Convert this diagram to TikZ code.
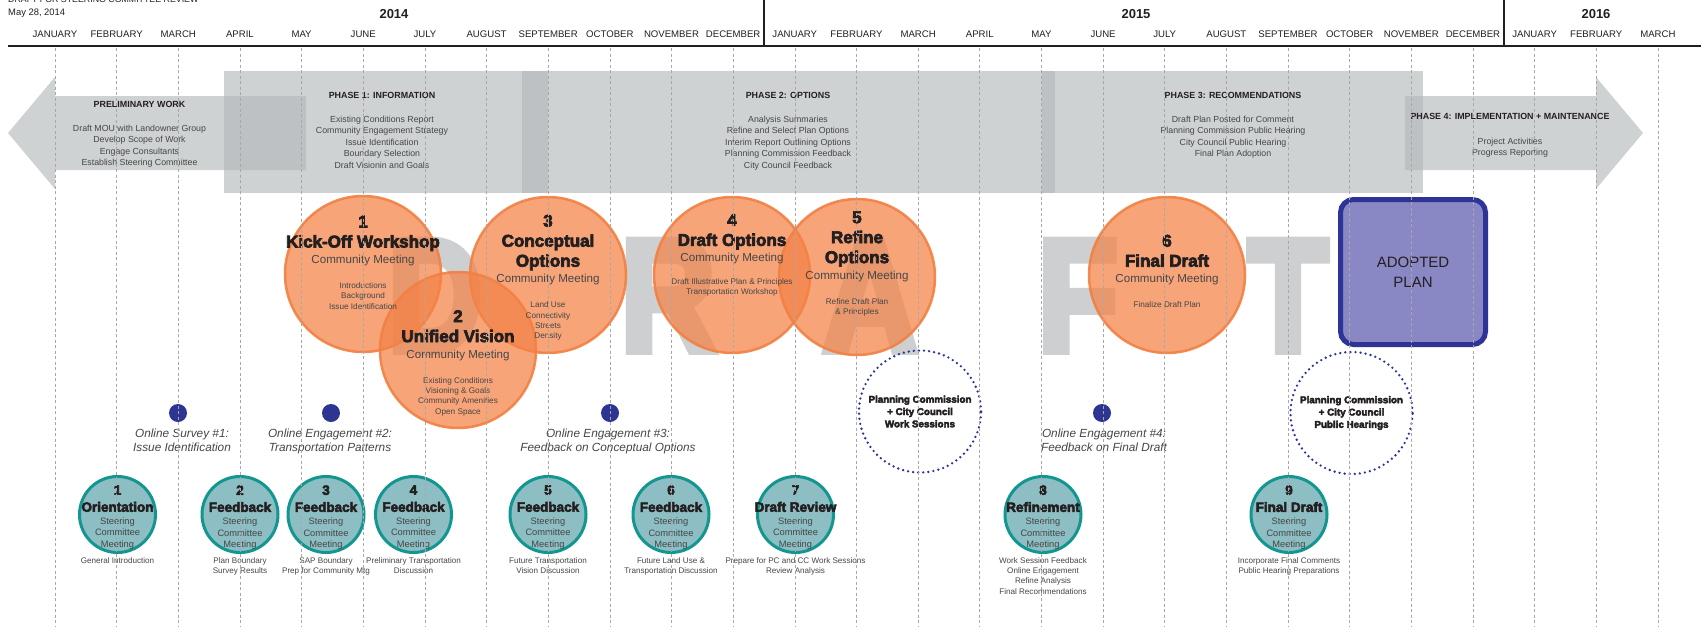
\documentclass[tikz,border=0pt]{standalone}
\usepackage{fontspec}
\setmainfont{Liberation Sans}
\newfontfamily\heavyfont{Liberation Sans Bold}[FakeBold=4]
\newfontfamily\draftfont{Liberation Sans Bold}[FakeBold=6]
\usetikzlibrary{positioning}

\definecolor{bandgray}{RGB}{180,184,186}
\definecolor{lettergray}{RGB}{205,207,209}
\definecolor{mtgfill}{RGB}{245,130,70}
\definecolor{mtgline}{RGB}{242,128,66}
\definecolor{scfill}{RGB}{140,190,195}
\definecolor{scline}{RGB}{20,150,144}
\definecolor{navy}{RGB}{44,54,146}
\definecolor{planfill}{RGB}{137,135,196}
\definecolor{planline}{RGB}{45,52,150}
\definecolor{inkdark}{RGB}{35,31,32}
\definecolor{inkgray}{RGB}{70,70,70}
\definecolor{gridgray}{RGB}{168,168,168}

\newcommand\headfont{\fontsize{17}{20}\selectfont\heavyfont\color{inkdark}}
\newcommand\cmfont{\fontsize{11.6}{14}\selectfont\color{inkgray}}
\newcommand\schead{\fontsize{13.5}{16}\selectfont\heavyfont\color{inkdark}}
\newcommand\bandhead{\fontsize{8.9}{11}\selectfont\bfseries\color{inkdark}}

\begin{document}
\begin{tikzpicture}[x=1pt,y=-1pt,
  band/.style={fill=bandgray,fill opacity=0.63},
  band text/.style={anchor=north,align=center,inner sep=0pt,text=inkgray,
    font={\fontsize{8.8}{11.4}\selectfont\lineskiplimit=-50pt}},
  month/.style={font=\fontsize{9.6}{11}\selectfont,text=inkdark,inner sep=0pt},
  year/.style={font=\fontsize{13}{15}\selectfont\bfseries,text=inkdark,inner sep=0pt},
  draft letter/.style={anchor=base,inner sep=0pt,text=lettergray,xscale=0.82,
    font=\fontsize{158}{160}\selectfont\draftfont},
  mtg node/.style={circle,minimum size=156pt,inner sep=0pt,fill=mtgfill,fill opacity=0.72,
    draw=mtgline,draw opacity=0.9,line width=2.5pt},
  mtg text/.style={anchor=north,align=center,inner sep=0pt,text=inkgray,
    font={\fontsize{8.2}{10.4}\selectfont\lineskiplimit=-50pt}},
  ses node/.style={circle,minimum size=122pt,inner sep=0pt,draw=navy,line width=2.6pt,
    dash pattern=on 0pt off 5.1pt,line cap=round,align=center,text=inkdark,
    font={\fontsize{9.8}{12.3}\selectfont\heavyfont}},
  plan node/.style={rectangle,rounded corners=13pt,minimum width=145pt,minimum height=145pt,
    fill=planfill,draw=planline,line width=5pt,align=center,text=inkdark,
    font=\fontsize{15}{20}\selectfont},
  dot node/.style={circle,minimum size=18pt,inner sep=0pt,fill=navy},
  dot text/.style={anchor=north,align=center,inner sep=0pt,text=inkgray,
    font={\fontsize{11.8}{14.3}\selectfont\itshape}},
  sc node/.style={circle,minimum size=76pt,inner sep=0pt,fill=scfill,draw=scline,line width=3pt},
  sc text/.style={anchor=north,align=center,inner sep=0pt,text=inkgray,
    font={\fontsize{9.3}{11.3}\selectfont\lineskiplimit=-50pt}},
  sc label/.style={align=center,inner sep=0pt,text=inkgray,font={\fontsize{8.1}{10.4}\selectfont}},
  grid line/.style={gridgray,line width=0.6pt,dash pattern=on 3pt off 2.5pt}]

    \useasboundingbox (0,0) rectangle (1701,627);
    \fill[white] (0,0) rectangle (1701,627);

    % phase band
    \fill[band] (8,133) -- (55,77) -- (55,96) -- (306,96) -- (306,170) -- (55,170) -- (55,189) -- cycle;
    \fill[band] (224,71) rectangle (548,193);
    \fill[band] (522,71) rectangle (1055,193);
    \fill[band] (1042,71) rectangle (1423,193);
    \fill[band] (1405,96) -- (1596,96) -- (1596,77) -- (1643,133) -- (1596,189) -- (1596,170) -- (1405,170) -- cycle;

    \node[band text] (pre) at (139.5,100.8) {{\bandhead PRELIMINARY WORK}\\[12.6pt]Draft MOU with Landowner Group\\Develop Scope of Work\\Engage Consultants\\Establish Steering Committee};
    \node[band text] (ph1) at (382,91.8) {{\bandhead PHASE 1: INFORMATION}\\[12.9pt]Existing Conditions Report\\Community Engagement Strategy\\Issue Identification\\Boundary Selection\\Draft Visionin and Goals};
    \node[band text] (ph2) at (788,91.8) {{\bandhead PHASE 2: OPTIONS}\\[12.9pt]Analysis Summaries\\Refine and Select Plan Options\\Interim Report Outlining Options\\Planning Commission Feedback\\City Council Feedback};
    \node[band text] (ph3) at (1233,91.8) {{\bandhead PHASE 3: RECOMMENDATIONS}\\[12.9pt]Draft Plan Posted for Comment\\Planning Commission Public Hearing\\City Council Public Hearing\\Final Plan Adoption};
    \node[band text] (ph4) at (1510,113.5) {{\bandhead PHASE 4: IMPLEMENTATION + MAINTENANCE}\\[12.9pt]Project Activities\\Progress Reporting};

    % watermark
    \foreach \c/\x in {D/435,R/668,A/870,F/1078,T/1288}
      \node[draft letter] (dl\c) at (\x,350) {\c};

    % community meetings
    \node[mtg node] (mtg1) at (363,274) {};
    \node[mtg node] (mtg3) at (548,275) {};
    \node[mtg node] (mtg2) at (458,350) {};
    \node[mtg node] (mtg4) at (732,275) {};
    \node[mtg node] (mtg5) at (857,277) {};
    \node[mtg node] (mtg6) at (1167,275) {};

    \node[mtg text] (mt1) at (363,215.6) {{\headfont 1}\\[9.6pt]{\headfont Kick-Off Workshop}\\[5.6pt]{\cmfont Community Meeting}\\[14.6pt]Introductions\\Background\\Issue Identification};
    \node[mtg text] (mt2) at (458,310) {{\headfont 2}\\[9.6pt]{\headfont Unified Vision}\\[5.6pt]{\cmfont Community Meeting}\\[14.6pt]Existing Conditions\\Visioning \& Goals\\Community Amenities\\Open Space};
    \node[mtg text] (mt3) at (548,214.6) {{\headfont 3}\\[9.6pt]{\headfont Conceptual}\\[9.6pt]{\headfont Options}\\[5.6pt]{\cmfont Community Meeting}\\[14.6pt]Land Use\\Connectivity\\Streets\\Density};
    \node[mtg text] (mt4) at (732,214) {{\headfont 4}\\[9.6pt]{\headfont Draft Options}\\[5.6pt]{\cmfont Community Meeting}\\[11.9pt]Draft Illustrative Plan \& Principles\\Transportation Workshop};
    \node[mtg text] (mt5) at (857,211.2) {{\headfont 5}\\[9.6pt]{\headfont Refine}\\[9.6pt]{\headfont Options}\\[5.6pt]{\cmfont Community Meeting}\\[14.6pt]Refine Draft Plan\\\& Principles};
    \node[mtg text] (mt6) at (1167,234.6) {{\headfont 6}\\[9.6pt]{\headfont Final Draft}\\[5.6pt]{\cmfont Community Meeting}\\[14.6pt]Finalize Draft Plan};

    % work sessions, hearings, adoption
    \node[ses node] (work) at (920,411.5) {Planning Commission\\+ City Council\\Work Sessions};
    \node[ses node] (hear) at (1351.5,413) {Planning Commission\\+ City Council\\Public Hearings};
    \node[plan node] (plan) at (1413,272) {ADOPTED\\PLAN};

    % online engagement
    \foreach \x/\tx/\la/\lb [count=\k] in {178/182/{Online Survey \#1:}/{Issue Identification},
        331/330/{Online Engagement \#2:}/{Transportation Patterns},
        610/608/{Online Engagement \#3:}/{Feedback on Conceptual Options},
        1102/1104/{Online Engagement \#4:}/{Feedback on Final Draft}}
    {
      \node[dot node] (dot\k) at (\x,413) {};
      \node[dot text] (dott\k) at (\tx,428.8) {\la\\\lb};
    }

    % steering committee
    \foreach \x/\n/\h/\lab [count=\k] in {117.5/1/Orientation/{General Introduction},
        240/2/Feedback/{Plan Boundary\\Survey Results},
        326/3/Feedback/{SAP Boundary\\Prep for Community Mtg},
        413.5/4/Feedback/{Preliminary Transportation\\Discussion},
        548/5/Feedback/{Future Transportation\\Vision Discussion},
        671/6/Feedback/{Future Land Use \&\\Transportation Discussion},
        795.5/7/Draft Review/{Prepare for PC and CC Work Sessions\\Review Analysis},
        1043/8/Refinement/{Work Session Feedback\\Online Engagement\\Refine Analysis\\Final Recommendations},
        1289/9/Final Draft/{Incorporate Final Comments\\Public Hearing Preparations}}
    {
      \node[sc node] (sc\k) at (\x,514.5) {};
      \node[sc text] (sct\k) at (\x,485.2) {{\schead\n}\\[5.7pt]{\schead\h}\\[1.7pt]Steering\\Committee\\Meeting};
      \node[sc label,below=3pt of sc\k] (scl\k) {\lab};
    }

    % timeline header
    \node[anchor=base west,inner sep=0pt,font=\fontsize{8.8}{10}\selectfont,text=inkdark] (title) at (8,2.6) {DRAFT FOR STEERING COMMITTEE REVIEW};
    \node[anchor=west,inner sep=0pt,font=\fontsize{9.4}{11}\selectfont,text=inkdark] (date) at (8,13.5) {May 28, 2014};
    \node[year] (y14) at (394,14) {2014};
    \node[year] (y15) at (1136,14) {2015};
    \node[year] (y16) at (1596,14) {2016};
    \foreach \m [count=\i from 0] in {JANUARY,FEBRUARY,MARCH,APRIL,MAY,JUNE,JULY,AUGUST,SEPTEMBER,OCTOBER,NOVEMBER,DECEMBER,
        JANUARY,FEBRUARY,MARCH,APRIL,MAY,JUNE,JULY,AUGUST,SEPTEMBER,OCTOBER,NOVEMBER,DECEMBER,JANUARY,FEBRUARY,MARCH}
      \node[month] (mon\i) at (55+61.65*\i,34.5) {\m};
    \draw[inkdark,line width=2.2pt] (8,45.8) -- (1701,45.8);
    \draw[inkdark,line width=2pt] (764.4,0) -- (764.4,45.8);
    \draw[inkdark,line width=2pt] (1503.7,0) -- (1503.7,45.8);

    \foreach \i in {0,...,26}
      \draw[grid line] (55+61.65*\i,48) -- (55+61.65*\i,627);

\end{tikzpicture}
\end{document}
